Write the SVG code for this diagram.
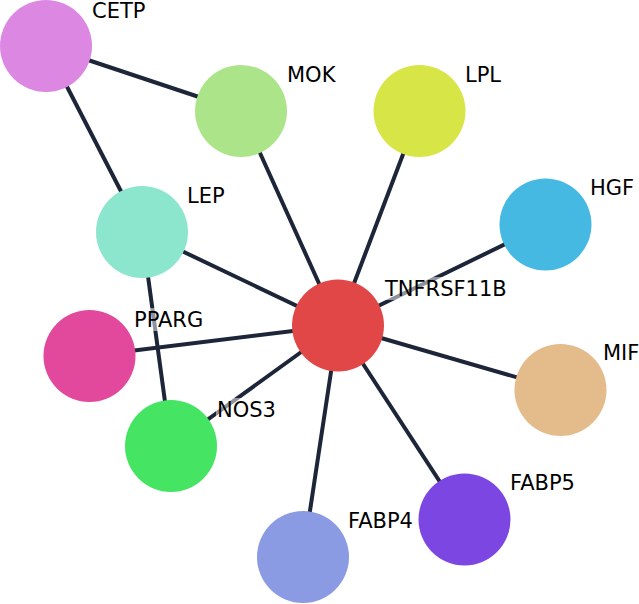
<svg xmlns="http://www.w3.org/2000/svg" width="639" height="604" viewBox="0 0 639 604">
<style>
.e{stroke:#1c2638;stroke-width:4;stroke-linecap:butt}
.lb{font-family:"DejaVu Sans",sans-serif;font-size:21px;fill:#000}
.bg{fill:#fff;fill-opacity:0.5}
</style>
<rect width="639" height="604" fill="#fff"/>
<g id="edges">
<line class="e" x1="46" y1="46" x2="241" y2="111"/>
<line class="e" x1="46" y1="46" x2="142" y2="232"/>
<line class="e" x1="241" y1="111" x2="338" y2="325.5"/>
<line class="e" x1="419.5" y1="111" x2="338" y2="325.5"/>
<line class="e" x1="545.5" y1="224.5" x2="338" y2="325.5"/>
<line class="e" x1="142" y1="232" x2="338" y2="325.5"/>
<line class="e" x1="142" y1="232" x2="171" y2="446"/>
<line class="e" x1="89.5" y1="356" x2="338" y2="325.5"/>
<line class="e" x1="171" y1="446" x2="338" y2="325.5"/>
<line class="e" x1="560.5" y1="390" x2="338" y2="325.5"/>
<line class="e" x1="464.5" y1="519.5" x2="338" y2="325.5"/>
<line class="e" x1="303" y1="557" x2="338" y2="325.5"/>
</g>
<g id="CETP"><circle cx="46" cy="46" r="46" fill="#dc88e3"/><text class="lb" x="92" y="18">CETP</text></g>
<g id="MOK"><circle cx="241" cy="111" r="46" fill="#ace589"/><text class="lb" x="287" y="82">MOK</text></g>
<g id="LPL"><circle cx="419.5" cy="111" r="46" fill="#d8e547"/><text class="lb" x="465" y="82">LPL</text></g>
<g id="HGF"><circle cx="545.5" cy="224.5" r="46" fill="#46b9e3"/><text class="lb" x="590" y="195">HGF</text></g>
<g id="LEP"><circle cx="142" cy="232" r="46" fill="#8be6cd"/><text class="lb" x="187" y="203">LEP</text></g>
<g id="PPARG"><circle cx="89.5" cy="356" r="46" fill="#e2489b"/><rect class="bg" x="133" y="308" width="76" height="23"/><text class="lb" x="134" y="327">PPARG</text></g>
<g id="TNFRSF11B"><circle cx="338" cy="325.5" r="46" fill="#e24747"/><rect class="bg" x="384" y="277" width="124" height="23"/><text class="lb" x="385" y="296">TNFRSF11B</text></g>
<g id="NOS3"><circle cx="171" cy="446" r="46" fill="#45e462"/><rect class="bg" x="216" y="398" width="59" height="23"/><text class="lb" x="217" y="417">NOS3</text></g>
<g id="MIF"><circle cx="560.5" cy="390" r="46" fill="#e4bc8b"/><text class="lb" x="603" y="360">MIF</text></g>
<g id="FABP5"><circle cx="464.5" cy="519.5" r="46" fill="#7c46e3"/><text class="lb" x="510" y="490">FABP5</text></g>
<g id="FABP4"><circle cx="303" cy="557" r="46" fill="#8a9ae3"/><text class="lb" x="348" y="528">FABP4</text></g>
</svg>
